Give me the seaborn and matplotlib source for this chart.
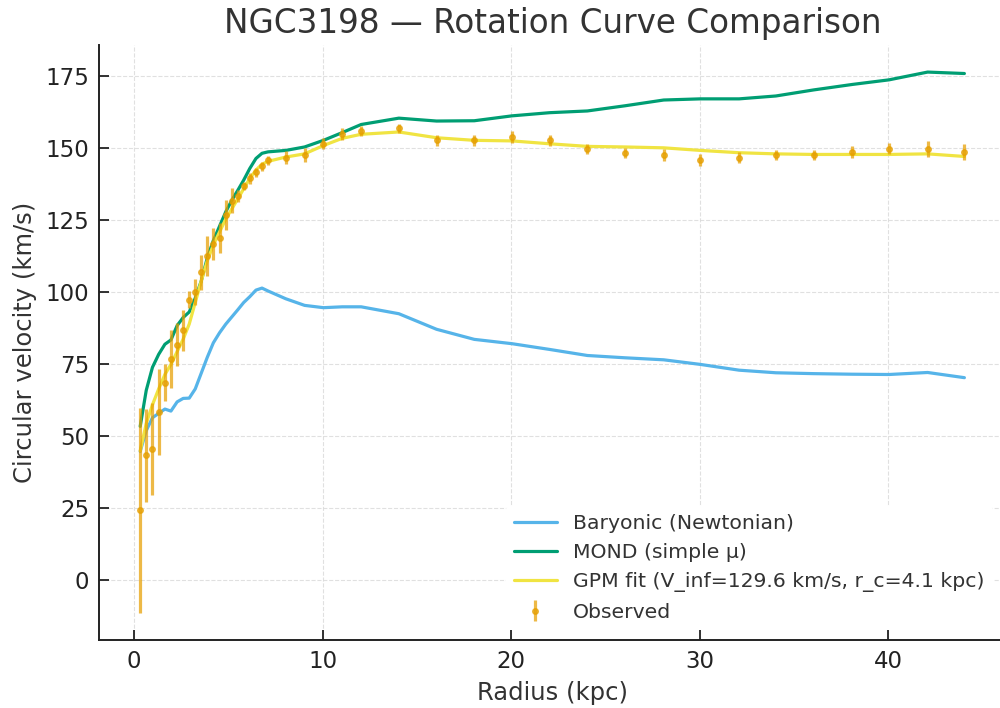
import matplotlib
matplotlib.use("Agg")
import matplotlib.pyplot as plt
import seaborn as sns
import numpy as np
import pandas as pd

# ---- data ----
radius_kpc = [0.33, 0.65, 0.98, 1.31, 1.64, 1.96, 2.29, 2.61, 2.93, 3.25, 3.57, 3.89,
              4.21, 4.54, 4.87, 5.19, 5.51, 5.82, 6.14, 6.47, 6.79, 7.11,
              8.05, 9.05, 10.05, 11.05, 12.05, 14.05, 16.05, 18.05, 20.05, 22.05,
              24.05, 26.05, 28.1, 30.05, 32.1, 34.05, 36.05, 38.1, 40.05, 42.1, 44.05]

v_obs = [24.3, 43.4, 45.7, 58.4, 68.7, 76.8, 81.9, 86.8, 97.5, 100.0, 107.0, 112.6,
         116.9, 119.0, 126.8, 131.8, 133.4, 137.0, 139.6, 141.7, 143.8, 145.9,
         146.8, 147.7, 151.7, 155.0, 156.0, 157.0, 152.8, 152.8, 154.0, 152.8,
         149.8, 148.5, 147.7, 145.9, 146.8, 147.8, 147.8, 148.7, 149.9, 149.8, 148.7]

v_err = [35.6, 16.0, 16.0, 15.0, 6.5, 10.0, 7.5, 7.0, 3.0, 4.5, 6.0, 7.0,
         5.5, 5.2, 5.2, 4.3, 2.0, 1.5, 2.0, 1.5, 1.5, 1.5,
         2.3, 2.3, 2.0, 2.0, 1.8, 1.6, 2.0, 2.0, 2.0, 2.0,
         1.8, 1.8, 2.0, 2.0, 2.0, 1.8, 1.8, 2.0, 2.0, 2.9, 2.8]

v_baryonic = [44.8, 52.0, 56.5, 58.0, 59.5, 58.8, 62.0, 63.2, 63.3, 66.5, 72.0, 77.5,
              82.5, 86.0, 89.0, 91.5, 94.0, 96.5, 98.5, 100.8, 101.5, 100.5,
              97.8, 95.5, 94.7, 95.0, 95.0, 92.6, 87.2, 83.7, 82.2, 80.2,
              78.1, 77.3, 76.6, 75.0, 73.0, 72.1, 71.8, 71.6, 71.5, 72.2, 70.4]

v_mond = [53.5, 66.0, 74.0, 78.5, 82.0, 83.5, 88.5, 91.3, 93.2, 98.0, 104.0, 112.0,
          118.0, 123.0, 128.0, 132.0, 135.5, 139.0, 143.0, 146.5, 148.3, 148.8,
          149.3, 150.5, 152.8, 155.5, 158.3, 160.5, 159.5, 159.6, 161.3, 162.4,
          163.0, 164.8, 166.8, 167.2, 167.2, 168.2, 170.3, 172.2, 173.8, 176.5, 176.0]

v_gpm = [45.0, 54.5, 61.0, 66.5, 71.5, 75.0, 79.5, 83.8, 89.0, 96.5, 104.0, 111.0,
         116.5, 121.0, 125.5, 129.0, 132.5, 136.0, 139.5, 142.5, 144.5, 145.5,
         147.0, 148.1, 151.0, 153.5, 154.9, 155.7, 153.7, 152.8, 152.6, 151.6,
         150.7, 150.5, 150.2, 149.3, 148.5, 148.1, 147.9, 147.9, 147.9, 148.1, 147.2]

x_ticks = [0, 10, 20, 30, 40]
y_ticks = [0, 25, 50, 75, 100, 125, 150, 175]

title = "NGC3198 — Rotation Curve Comparison"
label_bar = "Baryonic (Newtonian)"
label_mond = "MOND (simple μ)"
label_gpm = "GPM fit (V_inf=129.6 km/s, r_c=4.1 kpc)"
label_obs = "Observed"

df = pd.DataFrame({"r": radius_kpc, "bar": v_baryonic, "mond": v_mond, "gpm": v_gpm})

sns.set_theme(style="ticks")
plt.rcParams["font.family"] = ["DejaVu Sans"]

fig = plt.figure(figsize=(10, 7.08), dpi=100)
ax = fig.add_axes([0.099, 0.096, 0.9066, 0.8404])

sns.lineplot(data=df, x="r", y="bar", ax=ax, color="#56B4E9", lw=2.3, label=label_bar)
sns.lineplot(data=df, x="r", y="mond", ax=ax, color="#009E73", lw=2.3, label=label_mond)
sns.lineplot(data=df, x="r", y="gpm", ax=ax, color="#F0E442", lw=2.3, label=label_gpm)
ax.errorbar(radius_kpc, v_obs, yerr=v_err, fmt="o", color="#E69F00", ms=4,
            elinewidth=2.3, capsize=0, alpha=0.72, label=label_obs, zorder=5)

ax.grid(True, linestyle="--", linewidth=0.8, color="#d9d9d9", alpha=0.8)
ax.set_axisbelow(True)
sns.despine(ax=ax)
for s in ["left", "bottom"]:
    ax.spines[s].set_linewidth(1.4)
    ax.spines[s].set_color("#222222")

ax.set_title(title, fontsize=23.5, color="#333333", pad=9)
ax.set_xlabel("Radius (kpc)", fontsize=17.5, color="#333333", labelpad=6)
ax.set_ylabel("Circular velocity (km/s)", fontsize=17.5, color="#333333", labelpad=6)
ax.tick_params(labelsize=16.5, colors="#222222", length=7, width=1.3,
               direction="in", pad=7)
ax.set_xticks(x_ticks)
ax.set_yticks(y_ticks)

leg = ax.legend(loc="lower right", fontsize=14.7, frameon=True, facecolor="white",
                edgecolor="none", framealpha=1.0, borderaxespad=0.5,
                labelspacing=0.5, handlelength=2.1,
                bbox_to_anchor=(0.997, 0.0))
for t in leg.get_texts():
    t.set_color("#333333")

fig.savefig("out.png", dpi=100)
